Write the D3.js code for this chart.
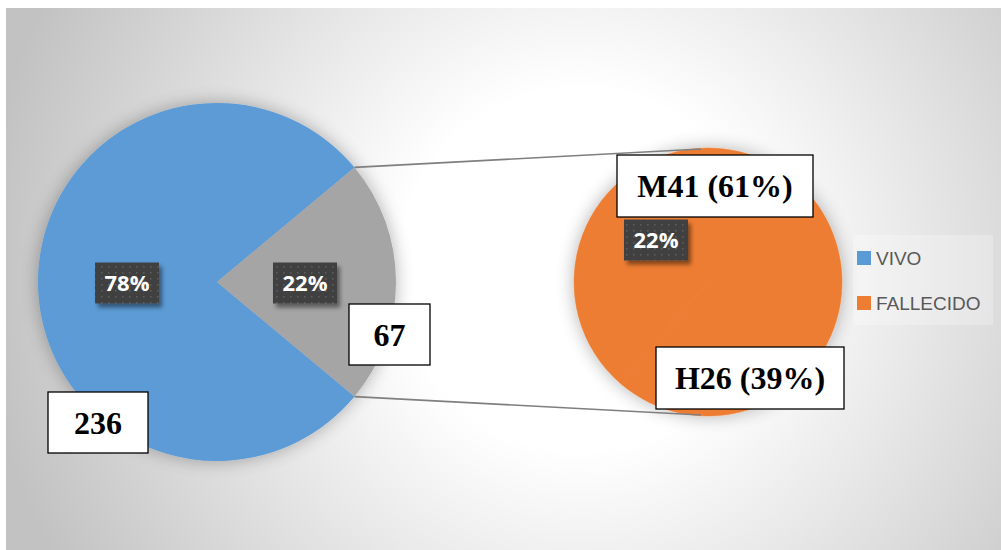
<!DOCTYPE html>
<html>
<head>
<meta charset="utf-8">
<script src="https://cdn.jsdelivr.net/npm/d3@7"></script>
<style>
  html, body { margin: 0; padding: 0; background: #ffffff; }
  svg { display: block; }
</style>
</head>
<body>
<svg id="chart" width="1001" height="550"></svg>
<script>
// Main pie: survival status
const categories = ["VIVO", "FALLECIDO"];
const counts = [236, 67];
// Secondary pie: breakdown of FALLECIDO by sex
const subCategories = ["M", "H"];
const subCounts = [41, 26];

const colors = { VIVO: "#5b9bd5", FALLECIDO: "#ed7d31", split: "#a5a5a5" };

const svg = d3.select("#chart");
const W = 1001, H = 550;
const defs = svg.append("defs");

// Background radial gradient
const bg = defs.append("radialGradient")
  .attr("id", "bgGrad")
  .attr("gradientUnits", "userSpaceOnUse")
  .attr("cx", 580).attr("cy", 270).attr("r", 600);
bg.append("stop").attr("offset", "0").attr("stop-color", "#ffffff");
bg.append("stop").attr("offset", "0.3").attr("stop-color", "#ffffff");
bg.append("stop").attr("offset", "1").attr("stop-color", "#c2c2c2");

// Soft halo behind the pies
const halo = defs.append("filter").attr("id", "halo")
  .attr("x", "-20%").attr("y", "-20%").attr("width", "140%").attr("height", "140%");
halo.append("feGaussianBlur").attr("in", "SourceAlpha").attr("stdDeviation", 9).attr("result", "b");
halo.append("feComponentTransfer").attr("in", "b").attr("result", "s")
  .append("feFuncA").attr("type", "linear").attr("slope", 0.3);
const hm = halo.append("feMerge");
hm.append("feMergeNode").attr("in", "s");
hm.append("feMergeNode").attr("in", "SourceGraphic");

// Shadow for dark value tags
const tagShadow = defs.append("filter").attr("id", "tagShadow")
  .attr("x", "-30%").attr("y", "-30%").attr("width", "160%").attr("height", "160%");
tagShadow.append("feDropShadow").attr("dx", 3).attr("dy", 4)
  .attr("stdDeviation", 2).attr("flood-color", "#000").attr("flood-opacity", 0.45);

// Dotted texture for dark value tags
const dots = defs.append("pattern").attr("id", "dots")
  .attr("patternUnits", "userSpaceOnUse").attr("width", 7).attr("height", 6);
dots.append("rect").attr("width", 7).attr("height", 6).attr("fill", "#404040");
dots.append("rect").attr("x", 3).attr("y", 2).attr("width", 1.6).attr("height", 1.6).attr("fill", "#5c5c5c");

svg.append("rect").attr("x", 6).attr("y", 8).attr("width", W - 6).attr("height", H - 8)
  .attr("fill", "url(#bgGrad)");

const total = d3.sum(counts);
const share = counts[1] / total;
const pct = d3.format(".0%");

// Pie geometry
const c1 = { x: 217, y: 282, r: 179 };
const c2 = { x: 708, y: 282, r: 134 };

// Rotate so the FALLECIDO slice sits centred on the right-hand side
const start = Math.PI / 2 + Math.PI * share;
const pie1 = d3.pie().sort(null).startAngle(start).endAngle(start + 2 * Math.PI);
const arcs1 = pie1(counts).map((a, i) => Object.assign(a, { name: categories[i] }));
const arc1 = d3.arc().innerRadius(0).outerRadius(c1.r);

const g1 = svg.append("g").attr("transform", `translate(${c1.x},${c1.y})`).attr("filter", "url(#halo)");
g1.selectAll("path").data(arcs1).join("path")
  .attr("d", arc1)
  .attr("fill", d => d.name === "VIVO" ? colors.VIVO : colors.split);

// Secondary pie (FALLECIDO breakdown)
const pie2 = d3.pie().sort(null);
const arcs2 = pie2(subCounts);
const arc2 = d3.arc().innerRadius(0).outerRadius(c2.r);
const g2 = svg.append("g").attr("transform", `translate(${c2.x},${c2.y})`).attr("filter", "url(#halo)");
g2.selectAll("path").data(arcs2).join("path")
  .attr("d", arc2)
  .attr("fill", colors.FALLECIDO)
  .attr("stroke", colors.FALLECIDO).attr("stroke-width", 0.5);

// Connector lines from the split slice to the secondary pie
const fall = arcs1[1];
const pt = (c, a, r) => [c.x + r * Math.sin(a), c.y - r * Math.cos(a)];
const pTop = pt(c1, fall.startAngle, c1.r);
const pBottom = pt(c1, fall.endAngle, c1.r);
const lines = [
  [pTop, [c2.x - 7, c2.y - c2.r + 1]],
  [pBottom, [c2.x - 7, c2.y + c2.r - 1]]
];
svg.selectAll("line.conn").data(lines).join("line").attr("class", "conn")
  .attr("x1", d => d[0][0]).attr("y1", d => d[0][1])
  .attr("x2", d => d[1][0]).attr("y2", d => d[1][1])
  .attr("stroke", "#7f7f7f").attr("stroke-width", 1.6);

// Dark percentage tags
function tag(cx, cy, text) {
  const w = 64, h = 41;
  const g = svg.append("g");
  g.append("rect").attr("x", cx - w / 2).attr("y", cy - h / 2).attr("width", w).attr("height", h)
    .attr("fill", "url(#dots)").attr("filter", "url(#tagShadow)");
  g.append("text").attr("x", cx).attr("y", cy).attr("dy", "0.36em")
    .attr("text-anchor", "middle").attr("fill", "#ffffff")
    .attr("font-family", "'Open Sans', sans-serif").attr("font-weight", 700).attr("font-size", 22)
    .text(text);
}
tag(127, 283, pct(counts[0] / total));
tag(305, 283, pct(counts[1] / total));
tag(656, 240, pct(counts[1] / total));

// White callout boxes
function callout(x, y, w, h, text) {
  const g = svg.append("g");
  g.append("rect").attr("x", x).attr("y", y).attr("width", w).attr("height", h)
    .attr("fill", "#ffffff").attr("stroke", "#000000").attr("stroke-width", 1.3);
  g.append("text").attr("x", x + w / 2).attr("y", y + h / 2).attr("dy", "0.35em")
    .attr("text-anchor", "middle").attr("fill", "#000000")
    .attr("font-family", "'Liberation Serif', 'Times New Roman', serif")
    .attr("font-weight", 700).attr("font-size", 32)
    .text(text);
}
const subTotal = d3.sum(subCounts);
callout(48, 392, 100, 61, String(counts[0]));
callout(349, 304, 81, 61, String(counts[1]));
callout(617, 155, 196, 62, `${subCategories[0]}${subCounts[0]} (${pct(subCounts[0] / subTotal)})`);
callout(656, 347, 188, 62, `${subCategories[1]}${subCounts[1]} (${pct(subCounts[1] / subTotal)})`);

// Legend
const lg = svg.append("g");
lg.append("rect").attr("x", 853).attr("y", 235).attr("width", 140).attr("height", 90)
  .attr("fill", "#ffffff").attr("fill-opacity", 0.25);
const items = lg.selectAll("g.item").data(categories).join("g").attr("class", "item")
  .attr("transform", (d, i) => `translate(857,${258 + i * 45})`);
items.append("rect").attr("x", 0).attr("y", -7).attr("width", 14).attr("height", 14)
  .attr("fill", d => colors[d]);
items.append("text").attr("x", 19).attr("y", 0).attr("dy", "0.36em")
  .attr("fill", "#595959")
  .attr("font-family", "'Liberation Sans', Arial, sans-serif").attr("font-size", 19)
  .text(d => d);
</script>
</body>
</html>
